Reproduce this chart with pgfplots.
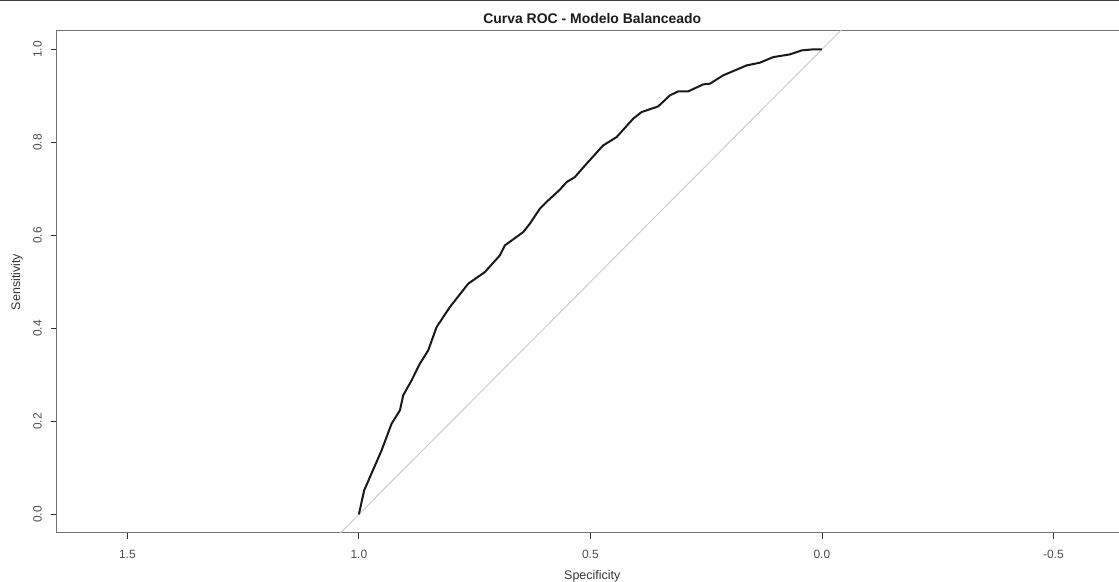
\documentclass[border=0pt]{standalone}
\usepackage{fontspec}
\setmainfont{Liberation Sans}
\usepackage{pgfplots}
\pgfplotsset{compat=1.18}
\begin{document}
\begin{tikzpicture}[x=1bp,y=1bp]
\useasboundingbox (0,0) rectangle (1119,582);
\draw[black!75, line width=1.5bp] (0,581.3) -- (1119,581.3);
\begin{axis}[
  at={(57bp,49bp)}, anchor=south west,
  scale only axis, width=1070.5bp, height=502.2bp,
  x dir=reverse,
  xmin=-0.66, xmax=1.652, ymin=-0.04, ymax=1.04,
  xtick={-0.5,0,0.5,1,1.5}, ytick={0,0.2,0.4,0.6,0.8,1},
  xtick pos=left, ytick pos=left,
  tick align=outside, major tick length=6bp,
  tick style={black!80, line width=0.8bp},
  axis line style={black!55, line width=1bp},
  /pgf/number format/assume math mode=true,
  tick label style={/pgf/number format/fixed, /pgf/number format/fixed zerofill,
    /pgf/number format/precision=1, font=\fontsize{12}{12}\selectfont, text=black!70},
  xticklabel style={anchor=north, inner sep=0pt},
  yticklabel style={rotate=90, anchor=south, inner sep=0pt},
  xticklabel shift=11bp, yticklabel shift=9bp,
  xlabel={Specificity},
  label style={font=\fontsize{12.5}{12.5}\selectfont, text=black!80, inner sep=0pt},
  xlabel style={at={(axis description cs:0.5,0)}, anchor=north, yshift=-37bp},
  title={Curva ROC - Modelo Balanceado},
  title style={at={(axis description cs:0.5,1)}, anchor=base, yshift=1bp, inner sep=0pt,
    font=\bfseries\fontsize{14}{14}\selectfont, text=black!90},
]
\addplot[black!20, line width=1bp] coordinates {(1.1,-0.1) (-0.1,1.1)};
\addplot[black!90, line width=2bp, line join=round] coordinates {
(1.0,0.0) (0.9886,0.0516) (0.951,0.1376) (0.9294,0.195) (0.9114,0.2237)
(0.9043,0.2559) (0.8862,0.2882) (0.8683,0.3241) (0.8503,0.3527) (0.8322,0.4028)
(0.8035,0.4458) (0.7639,0.4961) (0.7279,0.5211) (0.6955,0.557) (0.6847,0.5785)
(0.6451,0.6071) (0.6307,0.6252) (0.6091,0.6574) (0.5911,0.6753) (0.5659,0.6983)
(0.5514,0.7146) (0.5335,0.7254) (0.5082,0.7542) (0.4724,0.7935) (0.4434,0.8114)
(0.4076,0.851) (0.3894,0.8652) (0.3536,0.8774) (0.3283,0.9011) (0.3104,0.9097)
(0.2888,0.9097) (0.2564,0.9247) (0.2419,0.9262) (0.2132,0.9441) (0.1626,0.9656)
(0.1339,0.9714) (0.1052,0.9834) (0.0691,0.9892) (0.0438,0.9978) (0.02,1.0) (0.0,1.0)
};
\end{axis}
\node[rotate=90, anchor=south, inner sep=0pt, font=\fontsize{12.5}{12.5}\selectfont,
  text=black!80] at (23,300) {Sensitivity};
\end{tikzpicture}
\end{document}
